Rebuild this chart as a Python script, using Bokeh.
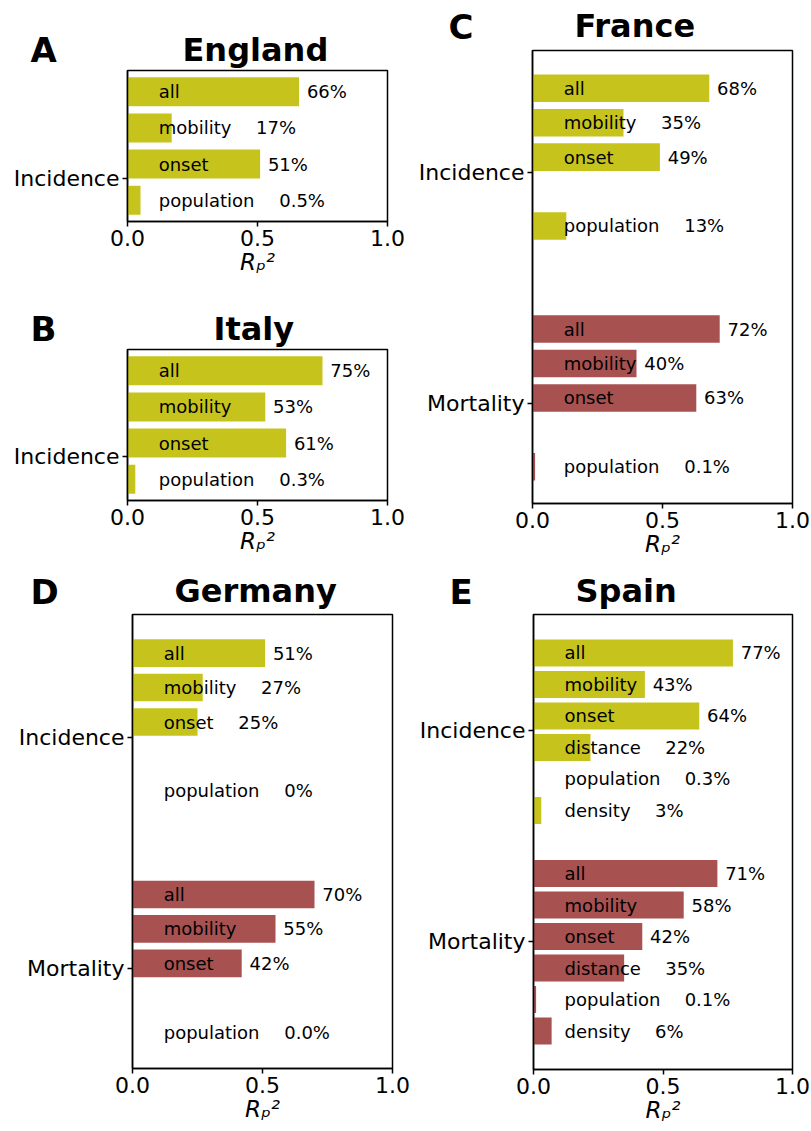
from bokeh.plotting import figure
from bokeh.models import Range1d, FixedTicker, NumeralTickFormatter, ColumnDataSource
from bokeh.layouts import row, column
from bokeh.embed import file_html
from bokeh.resources import INLINE
from bokeh.core.properties import value

# ---------------- data ----------------
FEATURE_ORDER = ["all", "mobility", "onset", "distance", "population", "density"]

eng_features = ["all", "mobility", "onset", "population"]
eng_inc_bar = [0.66, 0.17, 0.51, 0.05]
eng_inc_lbl = ["66%", "17%", "51%", "0.5%"]

ita_features = ["all", "mobility", "onset", "population"]
ita_inc_bar = [0.75, 0.53, 0.61, 0.03]
ita_inc_lbl = ["75%", "53%", "61%", "0.3%"]

fra_features = ["all", "mobility", "onset", "population"]
fra_inc_bar = [0.68, 0.35, 0.49, 0.13]
fra_inc_lbl = ["68%", "35%", "49%", "13%"]
fra_mor_bar = [0.72, 0.40, 0.63, 0.01]
fra_mor_lbl = ["72%", "40%", "63%", "0.1%"]

deu_features = ["all", "mobility", "onset", "population"]
deu_inc_bar = [0.51, 0.27, 0.25, 0.0]
deu_inc_lbl = ["51%", "27%", "25%", "0%"]
deu_mor_bar = [0.70, 0.55, 0.42, 0.0]
deu_mor_lbl = ["70%", "55%", "42%", "0.0%"]

esp_features = ["all", "mobility", "onset", "distance", "population", "density"]
esp_inc_bar = [0.77, 0.43, 0.64, 0.22, 0.0, 0.03]
esp_inc_lbl = ["77%", "43%", "64%", "22%", "0.3%", "3%"]
esp_mor_bar = [0.71, 0.58, 0.42, 0.35, 0.01, 0.07]
esp_mor_lbl = ["71%", "58%", "42%", "35%", "0.1%", "6%"]

# ---------------- style ----------------
YELLOW = "#c6c41c"
RED = "#a85151"
FONT = "DejaVu Sans"
NAME_PX = 18
TICK_PX = "22px"
FRAME_W = 260
NAME_X = 0.12
CHAR_EM = {"a": .613, "b": .635, "c": .550, "d": .635, "e": .615, "i": .278, "l": .278,
           "m": .974, "n": .634, "o": .612, "p": .635, "s": .521, "t": .392, "u": .634, "y": .592}
MID_EM = 0.346   # distance of the em-box middle above the baseline (DejaVu Sans)


def name_end(s):
    return NAME_X + sum(CHAR_EM[c] for c in s) * NAME_PX / FRAME_W


def header(w, h, letter, lx, title, tx, base_l, base_t):
    hp = figure(width=w, height=h, x_range=Range1d(0, w), y_range=Range1d(h, 0),
                output_backend="svg", toolbar_location=None,
                min_border_left=0, min_border_right=0, min_border_top=0, min_border_bottom=0,
                x_axis_location=None, y_axis_location=None, frame_align=False,
                background_fill_color="white", border_fill_color="white")
    hp.outline_line_color = None
    for g in hp.grid:
        g.visible = False
    hp.text(x=[lx], y=[base_l - MID_EM * 34], text=[letter], text_font=value(FONT),
            text_font_size=value("34px"), text_font_style="bold",
            text_baseline="middle", text_align="left", text_color="black")
    hp.text(x=[tx], y=[base_t - MID_EM * 32], text=[title], text_font=value(FONT),
            text_font_size=value("32px"), text_font_style="bold",
            text_baseline="middle", text_align="left", text_color="black")
    return hp


def build(cfg, groups):
    p = figure(width=cfg["w"], height=cfg["h"],
               x_range=Range1d(0, 1), y_range=Range1d(cfg["ybot"], cfg["ytop"]),
               output_backend="svg", toolbar_location=None, frame_align=False,
               min_border_left=cfg["bl"], min_border_right=cfg["br"],
               min_border_top=1, min_border_bottom=cfg["bb"],
               background_fill_color="white", border_fill_color="white")
    p.outline_line_color = "black"
    p.outline_line_width = 1.5
    p.xgrid.visible = False
    p.ygrid.visible = False

    ys, rights, cols = [], [], []
    tx, ty, tt = [], [], []
    for feats, bars, lbls, offset, color in groups:
        for i, f in enumerate(feats):
            slot = (i if cfg["compact"] else FEATURE_ORDER.index(f) + offset)
            ys.append(slot)
            rights.append(bars[i])
            cols.append(color)
            ne = name_end(f)
            vx = bars[i] + 0.03 if bars[i] > ne else ne + 0.095
            tx += [NAME_X, vx]
            ty += [slot, slot]
            tt += [f, lbls[i]]

    p.hbar(y=ys, left=0, right=rights, height=cfg["bh"], fill_color=cols, line_color=None)
    src = ColumnDataSource(dict(x=tx, y=ty, t=tt))
    p.text(x="x", y="y", text="t", source=src, text_font=value(FONT),
           text_font_size=value(f"{NAME_PX}px"), text_baseline="middle",
           text_align="left", text_color="black")

    xa = p.xaxis[0]
    xa.ticker = FixedTicker(ticks=[0, 0.5, 1.0])
    xa.formatter = NumeralTickFormatter(format="0.0")
    xa.axis_label = "R\u209a\u00b2"
    xa.axis_label_text_font = FONT
    xa.axis_label_text_font_style = "italic"
    xa.axis_label_text_font_size = "23px"
    xa.axis_label_text_color = "black"
    xa.axis_label_standoff = 0
    ya = p.yaxis[0]
    ya.ticker = FixedTicker(ticks=cfg["ticks"])
    ya.major_label_overrides = {t: l for t, l in zip(cfg["ticks"], cfg["tick_labels"])}
    for ax in (xa, ya):
        ax.axis_line_color = "black"
        ax.axis_line_width = 1.5
        ax.major_tick_line_color = "black"
        ax.major_tick_line_width = 1.5
        ax.major_tick_out = 5
        ax.major_tick_in = 0
        ax.minor_tick_line_color = None
        ax.major_label_text_font = FONT
        ax.major_label_text_font_size = TICK_PX
        ax.major_label_text_color = "black"
    xa.major_label_standoff = 3
    ya.major_label_standoff = 3
    return p


hA = header(405, 69, "A", 30, "England", 182, 61, 61)
pA = build(dict(w=405, h=231, bl=127, br=18, bb=79, ybot=3.59, ytop=-0.59,
                compact=True, bh=0.8, ticks=[2.4], tick_labels=["Incidence"]),
           [(eng_features, eng_inc_bar, eng_inc_lbl, 0, YELLOW)])
hB = header(405, 48, "B", 30, "Italy", 213, 40, 40)
pB = build(dict(w=405, h=222, bl=127, br=18, bb=70, ybot=3.59, ytop=-0.59,
                compact=True, bh=0.8, ticks=[2.38], tick_labels=["Incidence"]),
           [(ita_features, ita_inc_bar, ita_inc_lbl, 0, YELLOW)])
hC = header(406, 49, "C", 43, "France", 169, 38, 37)
pC = build(dict(w=406, h=521, bl=127, br=19, bb=67, ybot=12.07, ytop=-1.1,
                compact=False, bh=0.8, ticks=[2.45, 9.15], tick_labels=["Incidence", "Mortality"]),
           [(fra_features, fra_inc_bar, fra_inc_lbl, 0, YELLOW),
            (fra_features, fra_mor_bar, fra_mor_lbl, 7, RED)])
hD = header(410, 43, "D", 30, "Germany", 174, 33, 32)
pD = build(dict(w=410, h=518, bl=132, br=18, bb=63, ybot=12.05, ytop=-1.12,
                compact=False, bh=0.8, ticks=[2.45, 9.15], tick_labels=["Incidence", "Mortality"]),
           [(deu_features, deu_inc_bar, deu_inc_lbl, 0, YELLOW),
            (deu_features, deu_mor_bar, deu_mor_lbl, 7, RED)])
hE = header(401, 43, "E", 39, "Spain", 165, 33, 32)
pE = build(dict(w=401, h=518, bl=123, br=19, bb=62, ybot=13.22, ytop=-1.22,
                compact=False, bh=0.86, ticks=[2.46, 9.16], tick_labels=["Incidence", "Mortality"]),
           [(esp_features, esp_inc_bar, esp_inc_lbl, 0, YELLOW),
            (esp_features, esp_mor_bar, esp_mor_lbl, 7, RED)])

layout = column(row(column(hA, pA, hB, pB), column(hC, pC)),
                row(column(hD, pD), column(hE, pE)))
open("out.html", "w").write(file_html(layout, INLINE, title="R2 by country"))
